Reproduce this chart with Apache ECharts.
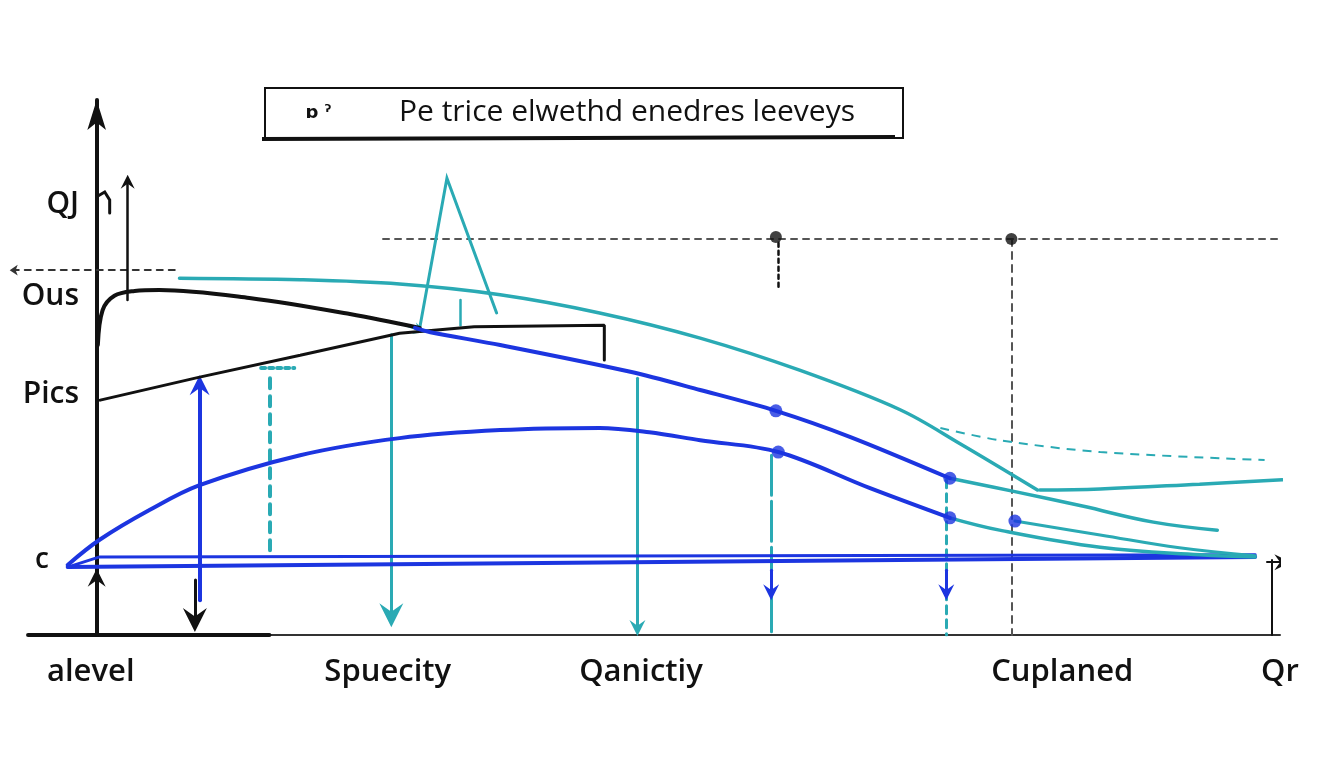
<!DOCTYPE html>
<html>
<head>
<meta charset="utf-8">
<script src="https://cdn.jsdelivr.net/npm/echarts@6/dist/echarts.min.js"></script>
<style>
html, body { margin: 0; background: #fff; }
#chart { width: 1344px; height: 768px; }
</style>
</head>
<body>
<div id="chart"></div>
<script>
// axis labels (value positions)
var xLabelPos = [-0.5, 24.6, 46.0, 81.6, 100];
var xLabelText = ['alevel', 'Spuecity', 'Qanictiy', 'Cuplaned', 'Qr'];
var yLabelPos = [80.4, 63.2, 44.9, 13.5];
var yLabelText = ['QJ', 'Ous', 'Pics', 'c'];

// curves
var blackTop = [[0.1, 54.2], [0.5, 60.7], [1.5, 63.4], [3.2, 64.3], [5.3, 64.5], [12.9, 63.0], [21.4, 60.0], [27.3, 57.4]];
var blackPics = [[0.3, 43.9], [8.7, 48.2], [17.2, 52.3], [25.6, 56.4], [31.9, 57.6], [42.9, 57.9], [42.9, 51.4]];
var blueUpper = [[26.9, 57.4], [28.2, 56.6], [34.1, 54.2], [45.1, 49.2], [51.0, 45.8], [57.4, 41.9], [63.7, 37.0], [72.1, 29.3]];
var tealUpperTail = [[72.1, 29.3], [77.6, 26.8], [83.3, 24.1], [89.3, 21.1], [94.7, 19.6]];
var blueLower = [[-2.45, 13.1], [0.25, 17.8], [4.5, 23.4], [8.7, 28.0], [17.2, 33.6], [25.6, 36.8], [34.1, 38.3], [42.5, 38.7], [46.7, 37.9], [51.0, 36.4], [57.6, 34.2], [65.3, 27.5], [72.1, 21.9]];
var tealLowerTail = [[72.1, 21.9], [76.3, 19.6], [84.8, 16.4], [93.2, 15.0], [97.9, 14.6]];
var tealDotTail = [[77.6, 21.3], [84.8, 18.7], [91.5, 16.3], [97.9, 14.8]];
var tealBig = [[7.0, 66.7], [17.2, 66.4], [25.6, 65.6], [34.1, 63.6], [42.5, 60.2], [51.0, 55.5], [59.4, 49.5], [67.9, 42.1], [73.0, 35.7], [79.5, 27.1]];
var tealFlat = [[79.7, 27.1], [84.8, 27.3], [93.2, 28.2], [100.2, 29.0]];
var tealSpike = [[27.3, 57.4], [29.6, 85.4], [33.8, 60.2]];
var tealDashed = [[71.3, 38.7], [76.3, 36.4], [84.8, 34.2], [98.7, 32.7]];
var blueBase1 = [[-2.45, 12.7], [97.9, 14.6]];
var blueBase2 = [[-2.45, 12.7], [0.25, 14.6], [97.9, 15.0]];

// markers
var blueDots = [[57.4, 41.9], [57.6, 34.2], [72.1, 29.3], [72.1, 21.9], [77.6, 21.3]];
var blackDots = [[57.4, 74.4], [77.3, 74.0]];
var tealDots = [[100.2, 29.0]];

var chart = echarts.init(document.getElementById('chart'));

var BLUE = '#1c35e0';
var TEAL = '#2aaab4';
var BLACK = '#111111';
var ARROW = 'path://M10,0 L20,14 L10,9 L0,14 Z';

function curve(data, color, width, smooth, z) {
	return {
		type: 'line',
		data: data,
		smooth: smooth,
		showSymbol: false,
		symbol: 'none',
		clip: false,
		silent: true,
		z: z || 3,
		lineStyle: { color: color, width: width, cap: 'round' }
	};
}

function seg(coords, color, width, opts) {
	opts = opts || {};
	return {
		type: 'lines',
		coordinateSystem: 'cartesian2d',
		polyline: coords.length > 2,
		silent: true,
		symbol: opts.symbol || ['none', 'none'],
		symbolSize: opts.size || [14, 18],
		z: opts.z || 3,
		lineStyle: { color: color, width: width, type: opts.dash || 'solid', opacity: 1, curveness: 0, cap: 'round' },
		data: [{ coords: coords }]
	};
}

function pick(pos, text, v) {
	for (var i = 0; i < pos.length; i++) {
		if (Math.abs(pos[i] - v) < 0.01) return text[i];
	}
	return '';
}

var option = {
	animation: false,
	backgroundColor: '#ffffff',
	grid: { left: 2, right: 64, top: 100, bottom: 133, containLabel: false, outerBoundsMode: 'none' },
	xAxis: {
		type: 'value',
		min: -8,
		max: 100,
		splitLine: { show: false },
		axisTick: { show: false },
		axisLine: { show: false },
		axisLabel: {
			customValues: xLabelPos,
			margin: 22,
			color: BLACK,
			fontSize: 31,
			fontWeight: 600,
			fontFamily: 'Open Sans',
			formatter: function (v) { return pick(xLabelPos, xLabelText, v); }
		}
	},
	yAxis: {
		type: 'value',
		min: 0,
		max: 100,
		splitLine: { show: false },
		axisTick: { show: false },
		axisLine: {
			show: true,
			onZero: true,
			symbol: ['none', 'arrow'],
			symbolSize: [14, 30],
			lineStyle: { color: BLACK, width: 4 }
		},
		axisLabel: {
			customValues: yLabelPos,
			margin: -77,
			color: BLACK,
			fontSize: 30,
			fontWeight: 600,
			fontFamily: 'Open Sans',
			formatter: function (v) {
				var t = pick(yLabelPos, yLabelText, v);
				return t === 'c' ? '{c|c}' : t;
			},
			rich: { c: { fontSize: 28, fontWeight: 600, fontFamily: 'Open Sans', padding: [0, 30, 6, 0] } }
		}
	},
	graphic: [
		{ type: 'rect', shape: { x: 265, y: 88, width: 638, height: 50 }, style: { fill: 'none', stroke: BLACK, lineWidth: 2 }, z: 10 },
		{ type: 'line', shape: { x1: 262, y1: 139, x2: 895, y2: 137 }, style: { stroke: BLACK, lineWidth: 4 }, z: 10 },
		{ type: 'text', x: 318, y: 113, style: { text: 'ɒ ˀ', font: 'bold 18px DejaVu Sans', fill: BLACK, textAlign: 'center', textVerticalAlign: 'middle' }, z: 10 },
		{ type: 'text', x: 627, y: 112, style: { text: 'Pe trice elwethd enedres leeveys', font: '500 30px Open Sans', fill: BLACK, textAlign: 'center', textVerticalAlign: 'middle' }, z: 10 }
	],
	series: [
		// baseline and its thick left part
		seg([[-5.8, 0], [100, 0]], '#333333', 2),
		seg([[-5.8, 0], [14.6, 0]], BLACK, 4),
		// reference lines
		seg([[24.2, 74.0], [100.6, 74.0]], '#555555', 2, { dash: [6, 6] }),
		seg([[57.6, 73.3], [57.6, 65.0]], BLACK, 2.5, { dash: [4, 4] }),
		seg([[77.3, 74.0], [77.3, 0]], '#555555', 2, { dash: [7, 6] }),
		seg([[6.6, 68.2], [-7.35, 68.2]], '#333333', 2, { dash: [6, 6], symbol: ['none', 'arrow'], size: [8, 8] }),
		// small hook near the top of the axis
		seg([[0, 81.9], [0.68, 82.8], [1.1, 81.3], [1.1, 78.9]], BLACK, 3),
		// arrows
		seg([[2.62, 62.6], [2.62, 84.7]], BLACK, 2.5, { symbol: ['none', ARROW], size: [10, 14] }),
		seg([[0, 0], [0, 10.7]], BLACK, 4, { symbol: ['none', ARROW], size: [16, 18] }),
		seg([[8.7, 6.5], [8.7, 46.7]], BLUE, 4, { symbol: ['none', ARROW], size: [14, 20] }),
		seg([[8.3, 10.3], [8.3, 2.8]], BLACK, 3, { symbol: ['none', ARROW], size: [22, 24] }),
		seg([[14.6, 48.0], [14.6, 15.3]], TEAL, 4, { dash: [10, 8] }),
		seg([[13.9, 49.9], [16.7, 49.9]], TEAL, 4, { dash: [4, 4] }),
		seg([[24.9, 56.1], [24.9, 3.7]], TEAL, 3, { symbol: ['none', ARROW], size: [22, 24] }),
		seg([[45.7, 48.0], [45.7, 1.3]], TEAL, 3, { symbol: ['none', ARROW], size: [12, 16] }),
		seg([[57.0, 33.6], [57.0, 0.6]], TEAL, 3, { dash: [40, 6] }),
		seg([[57.0, 12.1], [57.0, 8.0]], BLUE, 3, { symbol: ['none', ARROW], size: [14, 16] }),
		seg([[71.8, 29.0], [71.8, 0]], TEAL, 3, { dash: [8, 6] }),
		seg([[71.8, 12.1], [71.8, 8.0]], BLUE, 3, { symbol: ['none', ARROW], size: [16, 16] }),
		seg([[99.3, 0], [99.3, 14.0]], BLACK, 2),
		seg([[98.9, 13.6], [100.2, 13.6]], BLACK, 2, { symbol: ['none', ARROW], size: [14, 16] }),
		// teal spike
		seg(tealSpike, TEAL, 3),
		seg([[30.7, 62.6], [30.7, 57.9]], TEAL, 2.5),
		seg([[25.6, 58.3], [27.3, 57.0]], TEAL, 2.5, { symbol: ['none', ARROW], size: [10, 12] }),
		// curves
		curve(blueBase1, BLUE, 4, false, 4),
		curve(blueBase2, BLUE, 3, false, 4),
		curve(blackTop, BLACK, 4, 0.35, 5),
		curve(blackPics, BLACK, 3, false, 5),
		curve(blueUpper, BLUE, 4, 0.3, 5),
		curve(tealUpperTail, TEAL, 3.5, 0.4, 4),
		curve(blueLower, BLUE, 4, 0.35, 5),
		curve(tealLowerTail, TEAL, 3.5, 0.4, 4),
		curve(tealDotTail, TEAL, 3, 0.4, 4),
		curve(tealBig, TEAL, 3.5, 0.35, 4),
		curve(tealFlat, TEAL, 3.5, 0.4, 4),
		{
			type: 'line', data: tealDashed, smooth: 0.3, showSymbol: false, symbol: 'none', silent: true, z: 4,
			lineStyle: { color: TEAL, width: 2, type: [9, 7] }
		},
		// dots
		{ type: 'scatter', data: blueDots, symbolSize: 13, itemStyle: { color: BLUE }, silent: true, z: 8 },
		{ type: 'scatter', data: blackDots, symbolSize: 12, itemStyle: { color: BLACK }, silent: true, z: 8 },
		{ type: 'scatter', data: tealDots, symbolSize: 9, itemStyle: { color: TEAL }, silent: true, z: 8 }
	]
};

chart.setOption(option);
</script>
</body>
</html>
